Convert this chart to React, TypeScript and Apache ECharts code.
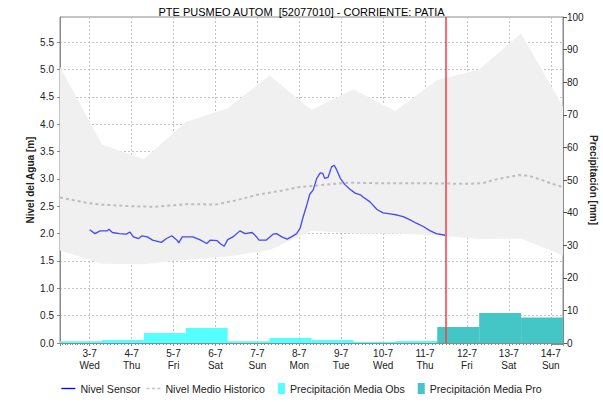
import React, { useEffect, useRef } from 'react';
import * as echarts from 'echarts';

const TITLE = 'PTE PUSMEO AUTOM  [52077010] - CORRIENTE: PATIA';
const FONT = '"Liberation Sans", Arial, sans-serif';
const DAY = 86400000;
const DAYS = ['Sun', 'Mon', 'Tue', 'Wed', 'Thu', 'Fri', 'Sat'];

const T_MIN = '2024-07-02 07:00';
const T_MAX = '2024-07-14 07:00';
const T_NOW = '2024-07-11 12:00';

// Nivel Sensor
const sensorTimes = [
  '2024-07-03 00:00', '2024-07-03 03:00', '2024-07-03 06:00', '2024-07-03 10:00', '2024-07-03 11:00',
  '2024-07-03 13:00', '2024-07-03 17:00', '2024-07-03 21:00', '2024-07-03 23:00', '2024-07-04 01:00',
  '2024-07-04 04:00', '2024-07-04 06:00', '2024-07-04 09:00', '2024-07-04 12:00', '2024-07-04 17:00',
  '2024-07-04 20:00', '2024-07-04 23:00', '2024-07-05 02:00', '2024-07-05 03:00', '2024-07-05 05:00',
  '2024-07-05 11:00', '2024-07-05 15:00', '2024-07-05 19:00', '2024-07-05 21:00', '2024-07-06 01:00',
  '2024-07-06 03:00', '2024-07-06 05:00', '2024-07-06 07:00', '2024-07-06 10:00', '2024-07-06 14:00',
  '2024-07-06 17:00', '2024-07-06 21:00', '2024-07-06 23:00', '2024-07-07 01:00', '2024-07-07 05:00',
  '2024-07-07 09:00', '2024-07-07 11:00', '2024-07-07 14:00', '2024-07-07 17:00', '2024-07-07 20:00',
  '2024-07-07 22:30', '2024-07-08 00:30', '2024-07-08 02:00', '2024-07-08 04:00', '2024-07-08 06:00',
  '2024-07-08 08:00', '2024-07-08 10:00', '2024-07-08 12:00', '2024-07-08 13:30', '2024-07-08 14:30',
  '2024-07-08 16:30', '2024-07-08 18:30', '2024-07-08 20:00', '2024-07-08 21:30', '2024-07-08 23:30',
  '2024-07-09 02:00', '2024-07-09 05:00', '2024-07-09 08:00', '2024-07-09 11:00', '2024-07-09 12:30',
  '2024-07-09 16:30', '2024-07-09 20:30', '2024-07-10 00:00', '2024-07-10 04:00', '2024-07-10 08:00',
  '2024-07-10 11:30', '2024-07-10 15:30', '2024-07-10 19:00', '2024-07-10 23:00', '2024-07-11 03:00',
  '2024-07-11 06:30', '2024-07-11 11:30',
];
const sensorValues = [
  2.07, 2.0, 2.05, 2.05, 2.08,
  2.02, 2.0, 1.99, 2.03, 1.94,
  1.91, 1.96, 1.94, 1.88, 1.84,
  1.91, 1.96, 1.88, 1.83, 1.94,
  1.94, 1.89, 1.82, 1.88, 1.87,
  1.81, 1.77, 1.89, 1.94, 2.05,
  2.0, 2.02, 1.96, 1.88, 1.88,
  1.99, 2.0, 1.94, 1.9, 1.95,
  2.0, 2.1, 2.28, 2.49, 2.72,
  2.8, 3.01, 3.11, 3.1, 3.01,
  3.03, 3.22, 3.25, 3.16, 3.01,
  2.9, 2.81, 2.74, 2.71, 2.67,
  2.58, 2.44, 2.38, 2.36, 2.34,
  2.31, 2.25, 2.19, 2.13, 2.05,
  2.0, 1.97,
];

// Nivel Medio Historico
const medianTimes = [
  '2024-07-02 07:00', '2024-07-02 23:00', '2024-07-03 06:30', '2024-07-04 00:00', '2024-07-04 13:30',
  '2024-07-05 00:00', '2024-07-05 08:00', '2024-07-06 00:00', '2024-07-06 12:00', '2024-07-07 00:00',
  '2024-07-07 13:00', '2024-07-08 00:00', '2024-07-09 00:00', '2024-07-09 05:00', '2024-07-10 00:00',
  '2024-07-11 00:00', '2024-07-12 00:00', '2024-07-12 09:00', '2024-07-12 15:00', '2024-07-12 23:00',
  '2024-07-13 06:00', '2024-07-13 11:00', '2024-07-13 18:00', '2024-07-14 00:00', '2024-07-14 07:00',
];
const medianValues = [
  2.66, 2.56, 2.53, 2.5, 2.49,
  2.52, 2.54, 2.53, 2.61, 2.71,
  2.78, 2.85, 2.92, 2.93, 2.92,
  2.92, 2.91, 2.92, 2.98, 3.03,
  3.07, 3.06, 2.99, 2.92, 2.85,
];

// Historic band (min / max), daily at 07:00
const bandTimes = [
  '2024-07-02 07:00', '2024-07-03 07:00', '2024-07-04 07:00', '2024-07-05 07:00', '2024-07-06 07:00',
  '2024-07-07 07:00', '2024-07-08 07:00', '2024-07-09 07:00', '2024-07-10 07:00', '2024-07-11 07:00',
  '2024-07-12 07:00', '2024-07-13 07:00', '2024-07-14 07:00',
];
const bandMin = [1.69, 1.45, 1.44, 1.52, 1.58, 1.7, 2.05, 2.0, 2.0, 1.97, 1.9, 1.91, 1.6];
const bandMax = [5.05, 3.63, 3.36, 4.04, 4.29, 4.89, 4.26, 4.64, 4.24, 4.81, 5.0, 5.66, 4.32];

// Precipitation (07:00 to 07:00 next day)
const obsStarts = [
  '2024-07-02 07:00', '2024-07-03 07:00', '2024-07-04 07:00', '2024-07-05 07:00', '2024-07-06 07:00',
  '2024-07-07 07:00', '2024-07-08 07:00', '2024-07-09 07:00', '2024-07-10 07:00',
];
const obsValues = [0.5, 0.9, 3.1, 4.6, 0.5, 1.5, 0.9, 0.4, 0.6];
const proStarts = ['2024-07-11 07:00', '2024-07-12 07:00', '2024-07-13 07:00'];
const proValues = [4.9, 9.2, 7.8];

const ts = (s: string) => new Date(s.replace(' ', 'T')).getTime();

const OBS_COLOR = '#55ffff';
const PRO_COLOR = '#44c6c6';
const SENSOR_COLOR = '#4646ff';
const MEDIAN_COLOR = '#bdbdbd';
const BAND_COLOR = '#f0f0f0';

const LINE_ICON = 'path://M0,5L14,5L14,6.3L0,6.3Z';
const DASH_ICON = 'path://M0,5L3,5L3,6.5L0,6.5ZM5.5,5L8.5,5L8.5,6.5L5.5,6.5ZM11,5L14,5L14,6.5L11,6.5Z';
const RECT_ICON = 'path://M0,0L0,0M7,0L14,0L14,11L7,11Z';

const rectRender = (color: string) => (params: any, api: any) => {
  const p0 = api.coord([api.value(0), api.value(2)]);
  const p1 = api.coord([api.value(1), 0]);
  return {
    type: 'rect',
    shape: { x: p0[0], y: p0[1], width: p1[0] - p0[0], height: p1[1] - p0[1] },
    style: { fill: color },
  };
};

export default function App() {
  const ref = useRef<HTMLDivElement>(null);

  useEffect(() => {
    document.body.style.margin = '0';
    const chart = echarts.init(ref.current!, null, { renderer: 'svg' });
    const option: any = {
      animation: false,
      backgroundColor: '#ffffff',
      textStyle: { fontFamily: FONT },
      title: {
        text: TITLE,
        left: 'center',
        top: 1,
        textStyle: { fontSize: 11, fontWeight: 'normal', color: '#000', fontFamily: FONT },
      },
      legend: {
        bottom: 3,
        left: 'center',
        itemGap: 6,
        itemWidth: 14,
        itemHeight: 11,
        textStyle: { fontSize: 10.6, color: '#222', fontFamily: FONT },
        data: [
          { name: 'Nivel Sensor', icon: LINE_ICON, itemStyle: { color: '#0000ff' } },
          { name: 'Nivel Medio Historico', icon: DASH_ICON, itemStyle: { color: '#c4c4c4' } },
          { name: 'Precipitación Media Obs', icon: RECT_ICON, itemStyle: { color: OBS_COLOR } },
          { name: 'Precipitación Media Pro', icon: RECT_ICON, itemStyle: { color: PRO_COLOR } },
        ],
      },
      grid: {
        left: 60,
        right: 40,
        top: 17,
        bottom: 59,
        show: true,
        borderColor: '#8a8a8a',
        borderWidth: 1,
        containLabel: false,
        outerBoundsMode: 'none',
      },
      xAxis: {
        type: 'time',
        min: ts(T_MIN),
        max: ts(T_MAX),
        minInterval: DAY,
        maxInterval: DAY,
        axisLine: { show: true, lineStyle: { color: '#8a8a8a' } },
        axisTick: { show: true, length: 3, lineStyle: { color: '#8a8a8a' } },
        minorTick: { show: true, splitNumber: 12, length: 2, lineStyle: { color: '#8a8a8a' } },
        splitLine: { show: true, lineStyle: { type: [2, 2], color: '#c4c4c4', width: 1 } },
        axisLabel: {
          fontSize: 10,
          color: '#222',
          lineHeight: 12,
          margin: 4,
          hideOverlap: false,
          formatter: (v: number) => {
            const d = new Date(v);
            if (d.getHours() !== 0 || d.getMinutes() !== 0) return '';
            return `${d.getDate()}-${d.getMonth() + 1}\n${DAYS[d.getDay()]}`;
          },
        },
      },
      yAxis: [
        {
          type: 'value',
          min: 0,
          max: 5.96,
          interval: 0.5,
          name: 'Nivel del Agua [m]',
          nameLocation: 'middle',
          nameGap: 25,
          nameMoveOverlap: false,
          nameTextStyle: { fontSize: 10, fontWeight: 'bold', color: '#222', fontFamily: FONT },
          axisLine: { show: true, lineStyle: { color: '#8a8a8a' } },
          axisTick: { show: true, length: 3, lineStyle: { color: '#8a8a8a' } },
          splitLine: { show: true, lineStyle: { type: [2, 2], color: '#c4c4c4', width: 1 } },
          axisLabel: {
            fontSize: 10,
            color: '#222',
            margin: 6,
            showMaxLabel: false,
            formatter: (v: number) => (Math.abs(v * 2 - Math.round(v * 2)) < 1e-6 ? v.toFixed(1) : ''),
          },
        },
        {
          type: 'value',
          min: 0,
          max: 100,
          interval: 10,
          position: 'right',
          name: 'Precipitación [mm]',
          nameLocation: 'middle',
          nameRotate: -90,
          nameGap: 25,
          nameMoveOverlap: false,
          nameTextStyle: { fontSize: 10, fontWeight: 'bold', color: '#222', fontFamily: FONT },
          axisLine: { show: true, lineStyle: { color: '#8a8a8a' } },
          axisTick: { show: true, length: 4, lineStyle: { color: '#555' } },
          splitLine: { show: false },
          axisLabel: { fontSize: 10, color: '#222', margin: 4 },
        },
      ],
      series: [
        {
          name: 'bandLow',
          type: 'line',
          stack: 'band',
          symbol: 'none',
          silent: true,
          lineStyle: { width: 0, opacity: 0 },
          data: bandTimes.map((t, i) => [ts(t), bandMin[i]]),
          z: 1,
        },
        {
          name: 'bandHigh',
          type: 'line',
          stack: 'band',
          symbol: 'none',
          silent: true,
          lineStyle: { width: 0, opacity: 0 },
          areaStyle: { color: BAND_COLOR, opacity: 1 },
          data: bandTimes.map((t, i) => [ts(t), bandMax[i] - bandMin[i]]),
          z: 1,
        },
        {
          name: 'Precipitación Media Obs',
          type: 'custom',
          yAxisIndex: 1,
          itemStyle: { color: OBS_COLOR },
          encode: { x: [0, 1], y: 2 },
          renderItem: rectRender(OBS_COLOR),
          data: obsStarts.map((s, i) => [ts(s), ts(s) + DAY, obsValues[i]]),
          z: 2,
        },
        {
          name: 'Precipitación Media Pro',
          type: 'custom',
          yAxisIndex: 1,
          itemStyle: { color: PRO_COLOR },
          encode: { x: [0, 1], y: 2 },
          renderItem: rectRender(PRO_COLOR),
          data: proStarts.map((s, i) => [ts(s), ts(s) + DAY, proValues[i]]),
          z: 2,
        },
        {
          name: 'Nivel Medio Historico',
          type: 'line',
          symbol: 'none',
          itemStyle: { color: MEDIAN_COLOR },
          lineStyle: { color: MEDIAN_COLOR, width: 2, type: [3, 3] },
          data: medianTimes.map((t, i) => [ts(t), medianValues[i]]),
          z: 3,
        },
        {
          name: 'Nivel Sensor',
          type: 'line',
          symbol: 'none',
          itemStyle: { color: SENSOR_COLOR },
          lineStyle: { color: SENSOR_COLOR, width: 1.3 },
          data: sensorTimes.map((t, i) => [ts(t), sensorValues[i]]),
          z: 4,
          markLine: {
            silent: true,
            symbol: ['none', 'none'],
            label: { show: false },
            lineStyle: { color: '#ff3b3b', width: 1.5, type: 'solid' },
            data: [{ xAxis: ts(T_NOW) }],
          },
        },
      ],
    };
    chart.setOption(option);
    return () => chart.dispose();
  }, []);

  return <div ref={ref} style={{ width: 603, height: 402 }} />;
}
